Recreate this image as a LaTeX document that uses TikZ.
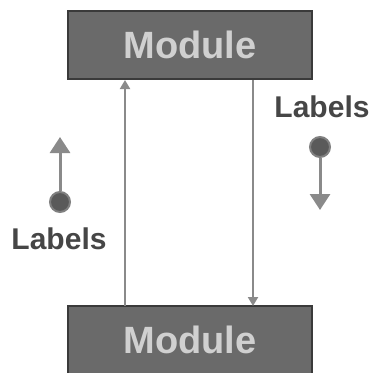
\documentclass[tikz,border=0pt]{standalone}
\usepackage{fontspec}
\setmainfont{Liberation Sans}
\usetikzlibrary{arrows.meta}
\definecolor{boxfill}{HTML}{6A6A6A}
\definecolor{boxedge}{HTML}{3A3A3A}
\definecolor{wire}{HTML}{8A8A8A}
\definecolor{dotfill}{HTML}{5A5A5A}
\definecolor{lettering}{HTML}{D0D0D0}
\begin{document}
\begin{tikzpicture}[x=1pt,y=-1pt,
  module/.style={draw=boxedge,line width=2.5pt,fill=boxfill,minimum width=244pt,
    minimum height=68pt,inner sep=0pt,text=lettering,font=\bfseries\fontsize{38}{40}\selectfont},
  legendtext/.style={text=gray!55!black,font=\bfseries\fontsize{30}{32}\selectfont,inner sep=0pt},
  link/.style={draw=wire,line width=2pt,-{Triangle[length=9pt,width=10pt]}},
  legendarrow/.style={draw=wire,line width=3pt,-{Triangle[length=16pt,width=20pt]}},
  dot/.style={circle,draw=gray,line width=2pt,fill=dotfill,minimum size=20pt,inner sep=0pt}]
  \useasboundingbox (0,0) rectangle (374,372);
  % the two modules
  \node[module] (top) at (190,45) {Module};
  \node[module] (bot) at (190,340) {Module};
  % connectors between the modules
  \coordinate (upS) at (125,306);
  \coordinate (upE) at (125,80);
  \coordinate (dnS) at (253,80);
  \coordinate (dnE) at (253,306);
  \draw[link] (upS) -- (upE);
  \draw[link] (dnS) -- (dnE);
  % legend on the left
  \node[dot] (ldot) at (60,202) {};
  \coordinate (ltip) at (60,137);
  \draw[legendarrow] (ldot) -- (ltip);
  \node[legendtext] (llab) at (59,239) {Labels};
  % legend on the right
  \node[legendtext] (rlab) at (322,107) {Labels};
  \node[dot] (rdot) at (320,147) {};
  \coordinate (rtip) at (320,210);
  \draw[legendarrow] (rdot) -- (rtip);
\end{tikzpicture}
\end{document}
